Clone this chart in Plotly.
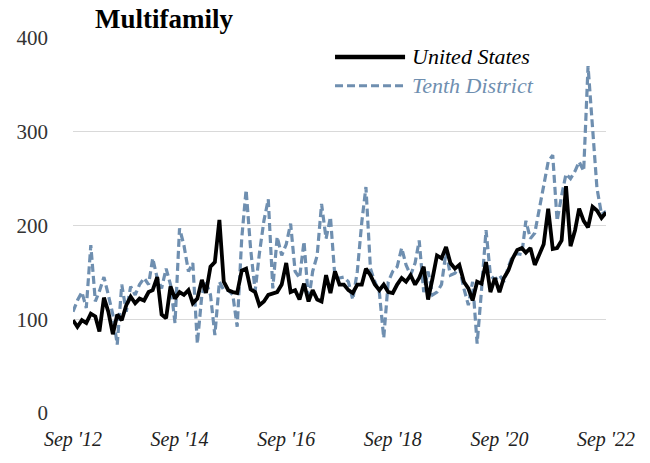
import pandas as pd
import plotly.graph_objects as go

months = pd.date_range("2012-09-01", "2022-09-01", freq="MS")

united_states = [
    99, 92, 99, 96, 106, 103, 87, 123, 108, 84,
    105, 99, 115, 124, 117, 122, 120, 129, 131, 145,
    105, 101, 135, 122, 129, 126, 131, 117, 122, 142,
    128, 156, 161, 206, 140, 131, 129, 128, 152, 154,
    132, 129, 115, 119, 126, 128, 129, 137, 160, 129,
    131, 121, 138, 119, 131, 121, 119, 147, 128, 151,
    137, 137, 131, 128, 137, 137, 154, 147, 137, 131,
    137, 129, 128, 137, 144, 140, 147, 137, 144, 156,
    121, 144, 168, 165, 177, 160, 154, 158, 140, 133,
    120, 140, 138, 161, 129, 144, 129, 144, 152, 165,
    174, 176, 171, 176, 158, 169, 180, 218, 175, 176,
    184, 242, 178, 195, 218, 205, 198, 220, 216, 208,
    214,
]

tenth_district = [
    108, 120, 129, 112, 179, 119, 130, 145, 126, 105,
    73, 137, 108, 135, 126, 137, 144, 137, 165, 144,
    133, 154, 137, 96, 197, 179, 151, 160, 74, 126,
    140, 126, 83, 140, 131, 131, 126, 92, 186, 238,
    175, 130, 170, 205, 228, 133, 188, 168, 180, 202,
    151, 144, 183, 119, 151, 168, 223, 186, 209, 144,
    144, 145, 140, 121, 151, 204, 241, 154, 140, 129,
    80, 140, 151, 156, 176, 158, 147, 160, 184, 129,
    151, 126, 129, 137, 172, 147, 149, 156, 133, 115,
    140, 74, 131, 195, 147, 142, 147, 140, 156, 168,
    170, 169, 205, 186, 192, 218, 246, 268, 275, 205,
    232, 255, 250, 258, 268, 258, 370, 300, 240, 212,
    215,
]

tick_dates = ["2012-09-01", "2014-09-01", "2016-09-01", "2018-09-01", "2020-09-01", "2022-09-01"]
tick_labels = ["Sep '12", "Sep '14", "Sep '16", "Sep '18", "Sep '20", "Sep '22"]
y_ticks = [0, 100, 200, 300, 400]

BLUE = "#6f8fb0"
FONT = "Liberation Serif"

fig = go.Figure()
fig.add_trace(go.Scatter(x=months, y=tenth_district, mode="lines", name="Tenth District",
                         line=dict(color=BLUE, width=3.2, dash="8px,4px"), showlegend=False))
fig.add_trace(go.Scatter(x=months, y=united_states, mode="lines", name="United States",
                         line=dict(color="black", width=3.8), showlegend=False))

fig.update_layout(
    width=650, height=463,
    margin=dict(l=73, r=44, t=38, b=48),
    paper_bgcolor="white", plot_bgcolor="white",
    font=dict(family=FONT, color="#333333"),
)
fig.update_xaxes(
    range=["2012-09-01", "2022-09-01"], tickvals=tick_dates, ticktext=tick_labels,
    tickfont=dict(family=FONT, size=20, style="italic", color="#222222"),
    showgrid=False, zeroline=False, showline=False, ticks="", ticklabelstandoff=12,
)
fig.update_yaxes(
    range=[0, 400], tickvals=y_ticks, tickfont=dict(family=FONT, size=21, color="#333333"),
    showgrid=True, gridcolor="#d9d9d9", gridwidth=1.2, zeroline=False, showline=False,
    ticks="", ticklabelstandoff=24,
)

fig.add_annotation(text="<b>Multifamily</b>", xref="paper", yref="paper", x=0.039, y=1.050,
                   xanchor="left", yanchor="middle", showarrow=False, borderpad=0,
                   font=dict(family=FONT, size=27, color="black"))

# legend
fig.add_shape(type="line", xref="paper", yref="paper", x0=0.4916, x1=0.623, y0=0.9496, y1=0.9496,
              line=dict(color="black", width=4.5))
fig.add_shape(type="line", xref="paper", yref="paper", x0=0.4916, x1=0.623, y0=0.8727, y1=0.8727,
              line=dict(color=BLUE, width=3.2, dash="8px,4px"))
fig.add_annotation(text="United States", xref="paper", yref="paper", x=0.632, y=0.9496,
                   xanchor="left", yanchor="middle", showarrow=False,
                   font=dict(family=FONT, size=22, style="italic", color="black"))
fig.add_annotation(text="Tenth District", xref="paper", yref="paper", x=0.632, y=0.8727,
                   xanchor="left", yanchor="middle", showarrow=False,
                   font=dict(family=FONT, size=22, style="italic", color=BLUE))

fig.write_html("out.html", config={"displayModeBar": False},
               post_script="document.body.style.margin='0';")
